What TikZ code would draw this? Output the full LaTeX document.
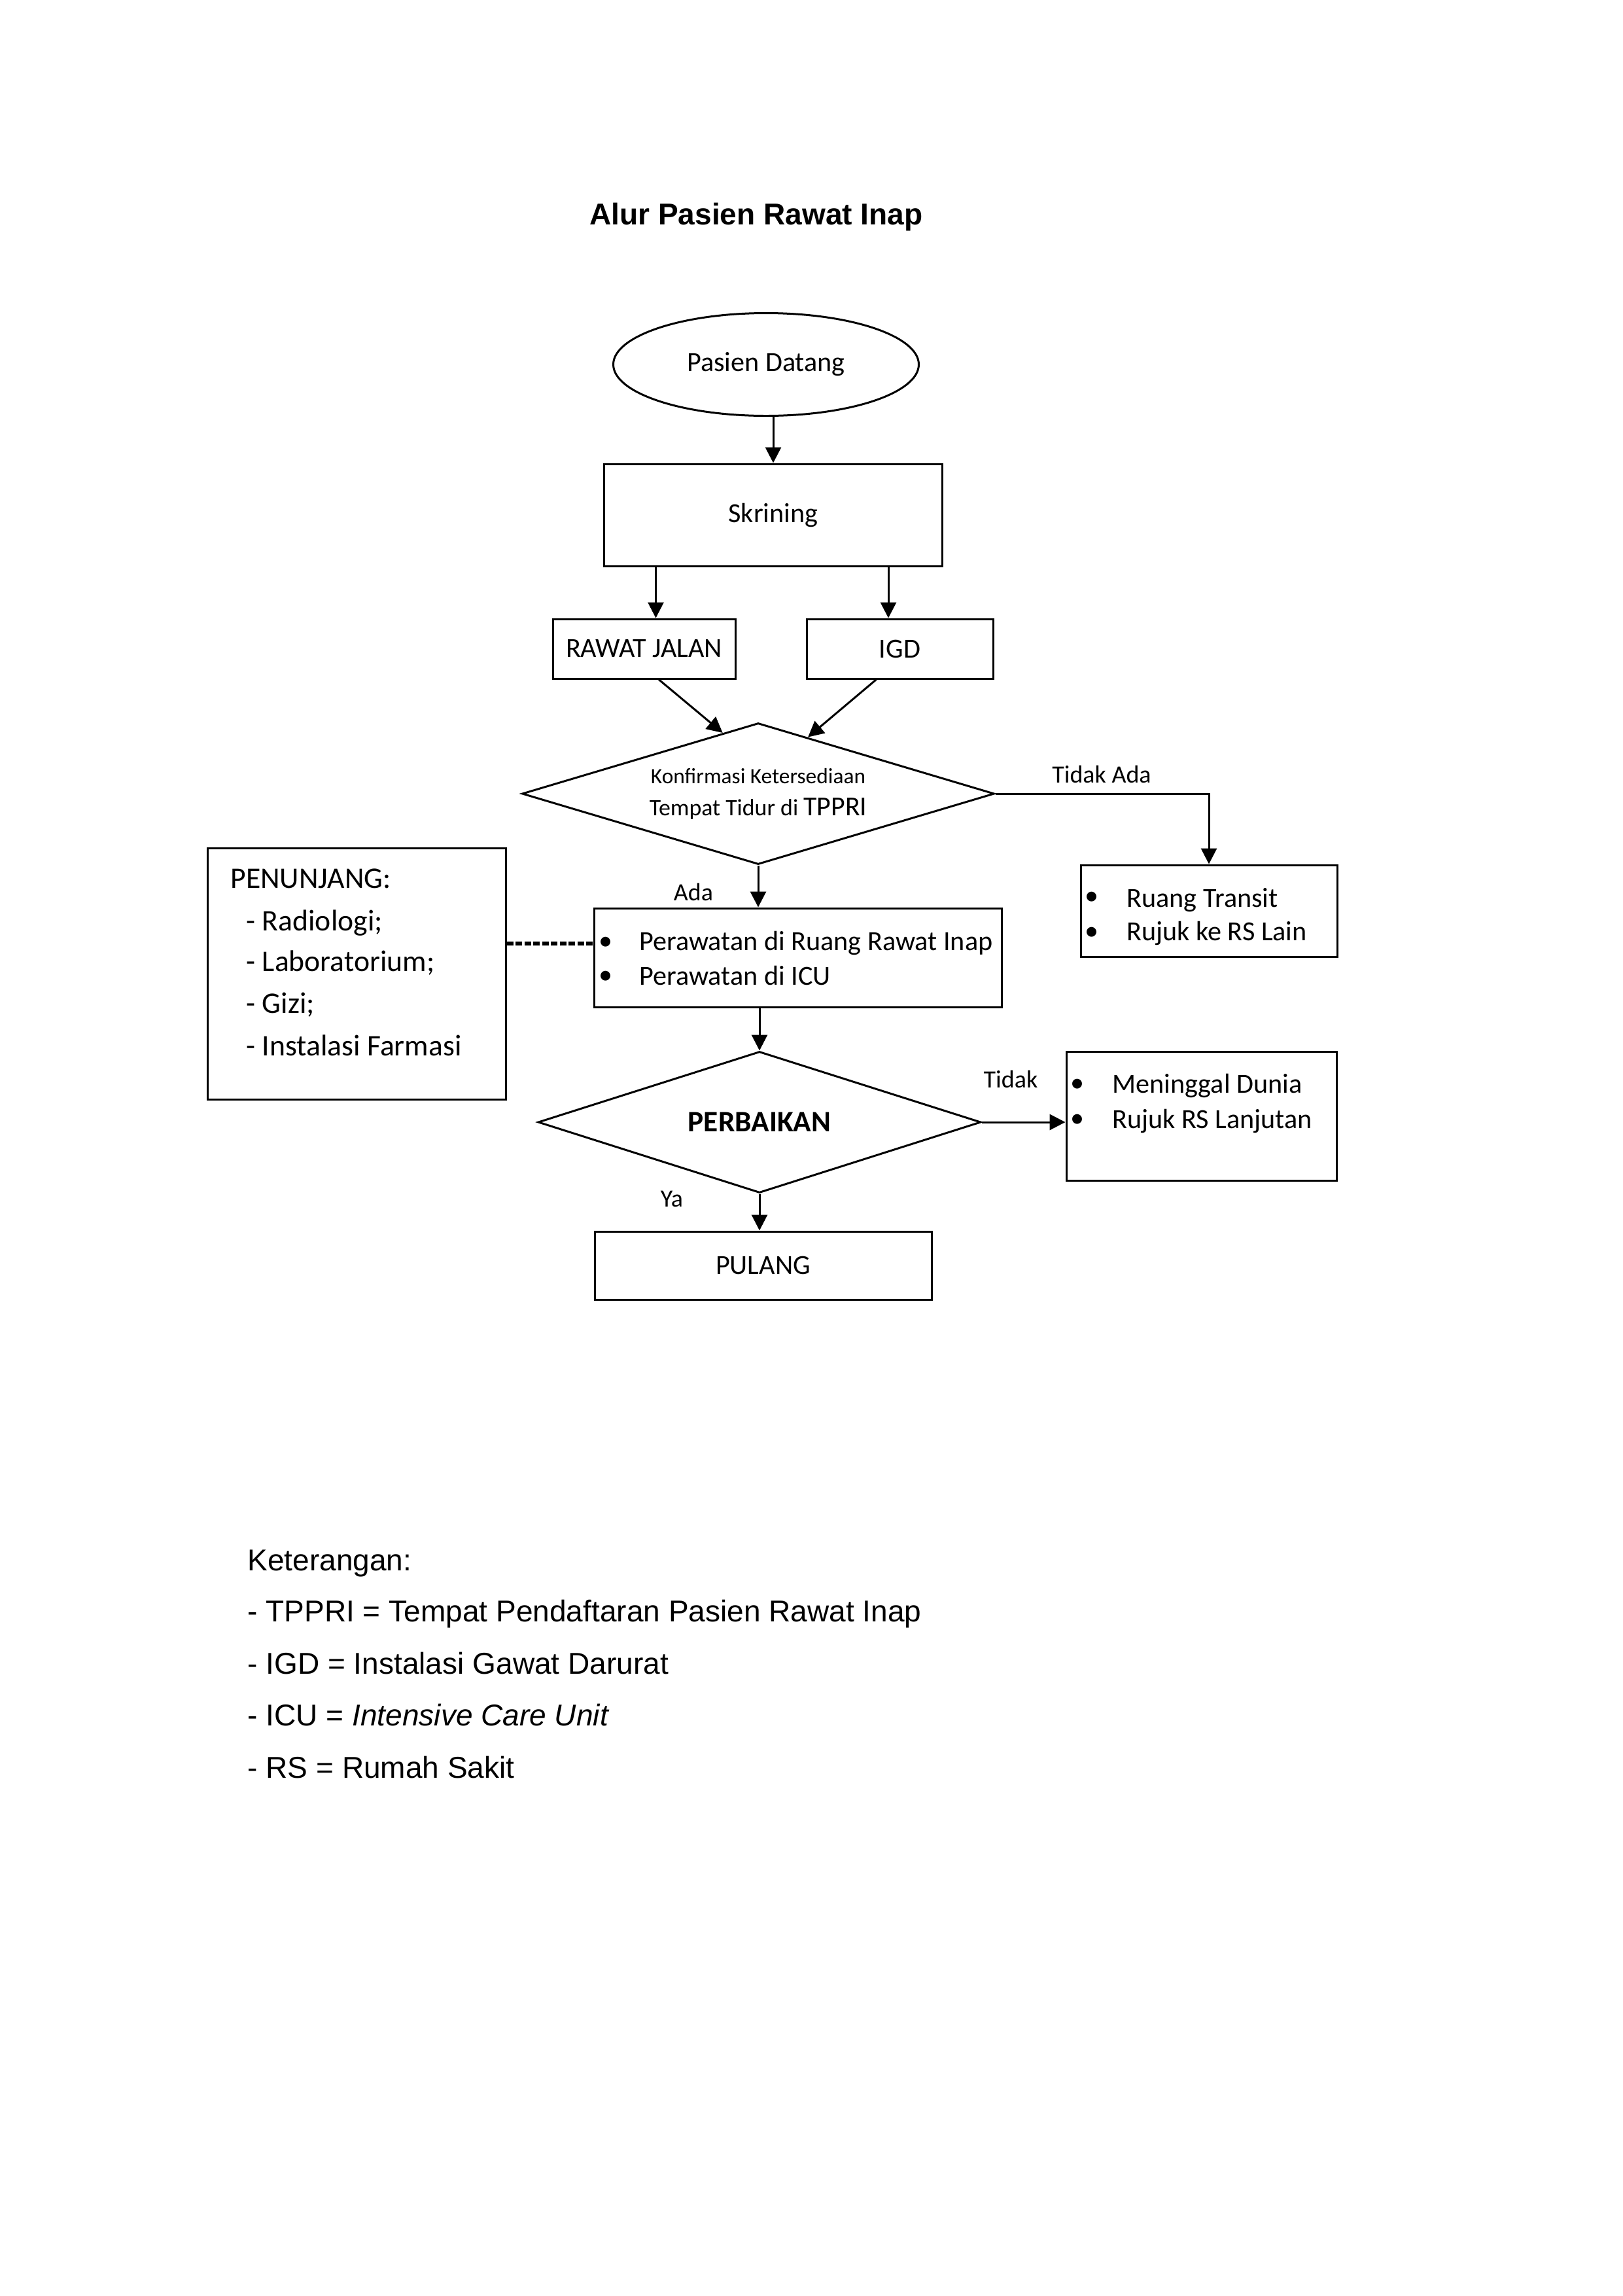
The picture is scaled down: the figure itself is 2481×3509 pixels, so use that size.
\documentclass[tikz,border=0pt]{standalone}
\usepackage{fontspec}
\setmainfont{Carlito}
\newfontfamily\arialfont{Liberation Sans}
\usetikzlibrary{shapes.geometric,arrows.meta,calc}

\begin{document}
\begin{tikzpicture}[x=0.1mm, y=-0.1mm, line width=0.3mm]
        \tikzstyle{box}=[rectangle, draw, inner sep=0pt, font=\fontsize{12}{14}\selectfont]
        \tikzstyle{decision}=[diamond, draw, inner sep=0pt, aspect=3.3]
        \tikzstyle{arrow}=[-{Triangle[length=2.4mm, width=2.4mm]}]
        \tikzstyle{lbl}=[inner sep=0pt, font=\fontsize{10.8}{13}\selectfont]
        \tikzstyle{item}=[anchor=base west, inner sep=0pt, font=\fontsize{12}{14}\selectfont]
        \tikzstyle{dot}=[inner sep=0pt, font=\fontsize{12}{14}\selectfont]
        \tikzstyle{legend}=[anchor=base west, inner sep=0pt, font=\arialfont\fontsize{13.1}{16}\selectfont]

        \useasboundingbox (0,0) rectangle (2481,3509);

        \node[anchor=base, inner sep=0pt, font=\arialfont\bfseries\fontsize{13.1}{15}\selectfont] (title) at (1156,343) {Alur Pasien Rawat Inap};

        % alur utama
        \node[ellipse, draw, inner sep=0pt, minimum width=46.7mm, minimum height=15.7mm, font=\fontsize{12}{14}\selectfont] (datang) at (1171,557) {Pasien Datang};
        \node[box, minimum width=51.7mm, minimum height=15.6mm] (skrining) at (1182,787) {Skrining};
        \node[box, minimum width=27.9mm, minimum height=9.1mm] (jalan) at (984.5,991.5) {RAWAT JALAN};
        \node[box, minimum width=28.5mm, minimum height=9.1mm] (igd) at (1375.5,991.5) {IGD};
        \node[decision, minimum width=72.2mm, minimum height=21.6mm, align=center, font=\fontsize{9.5}{13.9}\selectfont] (konf) at (1159,1213)
            {Konfirmasi Ketersediaan\\ \fontsize{10.2}{13.9}\selectfont Tempat Tidur di {\fontsize{11.9}{13.9}\selectfont TPPRI}};
        \node[box, minimum width=62.3mm, minimum height=15.1mm] (rawat) at (1219.5,1463.5) {};
        \node[box, minimum width=39.2mm, minimum height=14mm] (transit) at (1848,1392) {};
        \node[box, minimum width=45.6mm, minimum height=38.4mm] (penunjang) at (545,1488) {};
        \node[decision, minimum width=67.7mm, minimum height=21.6mm, font=\bfseries\fontsize{12.9}{15}\selectfont] (perbaikan) at (1161,1715) {PERBAIKAN};
        \node[box, minimum width=41.3mm, minimum height=19.7mm] (mati) at (1836.5,1705.5) {};
        \node[box, minimum width=51.5mm, minimum height=10.4mm] (pulang) at (1166.5,1934) {PULANG};

        % isi kotak
        \node[dot] (rb1) at (926,1442) {\textbullet};
        \node[item] (r1) at (976,1452) {Perawatan di Ruang Rawat Inap};
        \node[dot] (rb2) at (926,1494) {\textbullet};
        \node[item] (r2) at (976,1505) {Perawatan di ICU};

        \node[dot] (tb1) at (1669,1373) {\textbullet};
        \node[item] (t1) at (1721,1386) {Ruang Transit};
        \node[dot] (tb2) at (1669,1427) {\textbullet};
        \node[item] (t2) at (1721,1437) {Rujuk ke RS Lain};

        \node[dot] (mb1) at (1647,1659) {\textbullet};
        \node[item] (m1) at (1699,1670) {Meninggal Dunia};
        \node[dot] (mb2) at (1647,1713) {\textbullet};
        \node[item] (m2) at (1699,1724) {Rujuk RS Lanjutan};

        \node[item, font=\fontsize{13}{15}\selectfont] (p0) at (351,1357) {PENUNJANG:};
        \foreach \txt/\y [count=\i] in {Radiologi;/1422, Laboratorium;/1484, Gizi;/1548, Instalasi Farmasi/1613}
            \node[item, font=\fontsize{13}{15}\selectfont] (p\i) at (375,\y) {- \txt};

        % label cabang
        \node[lbl] (ada) at (1060,1363) {Ada};
        \node[lbl] (tidakada) at (1684,1183) {Tidak Ada};
        \node[lbl] (tidak) at (1545,1649) {Tidak};
        \node[lbl] (ya) at (1027,1832) {Ya};

        % panah
        \coordinate (jalanin) at ([xshift=1.8mm]jalan.north);
        \coordinate (igdin) at ([xshift=-1.75mm]igd.north);
        \draw[arrow] (datang.south -| skrining.north) -- (skrining.north);
        \draw[arrow] (skrining.south -| jalanin) -- (jalanin);
        \draw[arrow] (skrining.south -| igdin) -- (igdin);
        \draw[arrow] ($(jalan.south west)!0.58!(jalan.south east)$) -- ($(konf.north)!0.15!(konf.west)$);
        \draw[arrow] ($(igd.south west)!0.375!(igd.south east)$) -- ($(konf.north)!0.21!(konf.east)$);
        \draw[arrow] (konf.east) -| (transit.north);
        \draw[arrow] (konf.south) -- (konf.south |- rawat.north);
        \draw[line width=0.6mm, dash pattern=on 1mm off 0.35mm] (penunjang.east |- rb1) -- (rawat.west |- rb1);
        \draw[arrow] (perbaikan.north |- rawat.south) -- (perbaikan.north);
        \draw[arrow] (perbaikan.east) -- (perbaikan.east -| mati.west);
        \draw[arrow] (perbaikan.south) -- (perbaikan.south |- pulang.north);

        % keterangan
        \node[legend] (ket) at (377,2400) {Keterangan:};
        \node[legend] (ket1) at (377,2478) {- TPPRI = Tempat Pendaftaran Pasien Rawat Inap};
        \node[legend] (ket2) at (377,2558) {- IGD = Instalasi Gawat Darurat};
        \node[legend] (ket3) at (377,2637) {- ICU = \textit{Intensive Care Unit}};
        \node[legend] (ket4) at (377,2717) {- RS = Rumah Sakit};
    \end{tikzpicture}
\end{document}
